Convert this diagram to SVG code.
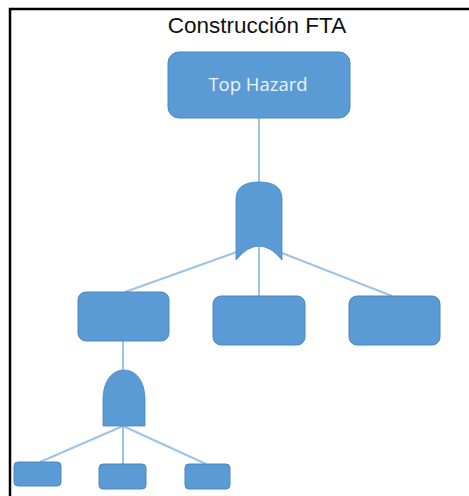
<svg xmlns="http://www.w3.org/2000/svg" width="469" height="496" viewBox="0 0 469 496">
  <style>
    .box { fill: #5B9BD5; stroke: #4A86C0; stroke-width: 1; }
    .gate { fill: #5B9BD5; stroke: #4A86C0; stroke-width: 0.8; }
    .wire { stroke: #9DC3E6; stroke-width: 2; fill: none; }
    .title { font-family: "Liberation Sans", Arial, sans-serif; font-size: 22.5px; fill: #111; text-anchor: middle; }
    .label { font-family: "Open Sans", "Liberation Sans", sans-serif; font-size: 18.5px; fill: #EEF3FA; text-anchor: middle; }
  </style>
  <rect x="0" y="0" width="469" height="496" fill="#ffffff"/>
  <!-- frame: top and left edges only -->
  <path d="M10,496 V9 H469" fill="none" stroke="#000" stroke-width="2.5"/>

  <text class="title" x="257" y="33">Construcción FTA</text>

  <g id="connectors">
    <line class="wire" x1="259" y1="118" x2="259" y2="296"/>
    <line class="wire" x1="259" y1="244" x2="125" y2="292"/>
    <line class="wire" x1="259" y1="244" x2="392" y2="296"/>
    <line class="wire" x1="123" y1="341" x2="123" y2="464"/>
    <line class="wire" x1="123" y1="426" x2="40" y2="462"/>
    <line class="wire" x1="123" y1="426" x2="206" y2="464"/>
  </g>

  <g id="top-hazard">
    <rect class="box" x="168" y="52" width="182" height="66" rx="11"/>
    <text class="label" x="258" y="91">Top Hazard</text>
  </g>

  <g id="or-gate">
    <path class="gate" d="M236,260 L236,199 Q236,182 259,182 Q282,182 282,199 L282,260 Q259,232 236,260 Z"/>
  </g>

  <g id="event-left">
    <rect class="box" x="78" y="292" width="91" height="49" rx="8"/>
  </g>
  <g id="event-middle">
    <rect class="box" x="213" y="296" width="92" height="49" rx="8"/>
  </g>
  <g id="event-right">
    <rect class="box" x="349" y="296" width="91" height="49" rx="8"/>
  </g>

  <g id="and-gate">
    <path class="gate" d="M103,426 L103,400 C103,381 112,370 124,370 C136,370 145,381 145,400 L145,426 Z"/>
  </g>

  <g id="basic-1">
    <rect class="box" x="14" y="462" width="47" height="24" rx="4"/>
  </g>
  <g id="basic-2">
    <rect class="box" x="99" y="464" width="47" height="25" rx="4"/>
  </g>
  <g id="basic-3">
    <rect class="box" x="185" y="464" width="45" height="25" rx="4"/>
  </g>
</svg>
